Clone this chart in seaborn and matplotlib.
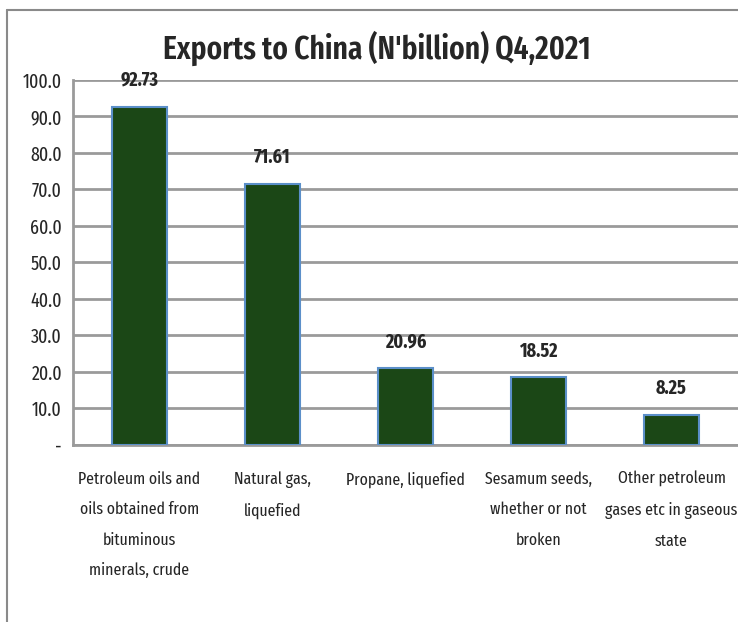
import matplotlib
matplotlib.use('Agg')
import matplotlib.pyplot as plt
import seaborn as sns
import pandas as pd

categories = [
    'Petroleum oils and\noils obtained from\nbituminous\nminerals, crude',
    'Natural gas,\nliquefied',
    'Propane, liquefied',
    'Sesamum seeds,\nwhether or not\nbroken',
    'Other petroleum\ngases etc in gaseous\nstate',
]
values = [92.73, 71.61, 20.96, 18.52, 8.25]
yticks = [0, 10, 20, 30, 40, 50, 60, 70, 80, 90, 100]
ytick_labels = ['-'] + ['%.1f' % t for t in yticks[1:]]

df = pd.DataFrame({'item': categories, 'value': values})

sns.set_style('white')
plt.rcParams['font.family'] = ['Fira Sans Extra Condensed', 'DejaVu Sans']

fig = plt.figure(figsize=(7.38, 6.22), dpi=100)
ax = fig.add_axes([0.099, 0.2846, 0.901, 0.5868])

sns.barplot(data=df, x='item', y='value', color='#1b4716', saturation=1,
            width=0.42, edgecolor='#5b8fc9', linewidth=1.5, ax=ax, zorder=3)

ax.set_ylim(0, 100)
ax.set_yticks(yticks)
ax.set_yticklabels(ytick_labels, fontsize=14)
ax.yaxis.grid(True, color='#9a9a9a', linewidth=2, zorder=0)
ax.set_axisbelow(True)
for s in ['top', 'right']:
    ax.spines[s].set_visible(False)
for s in ['left', 'bottom']:
    ax.spines[s].set_color('#9a9a9a')
    ax.spines[s].set_linewidth(2)
ax.tick_params(axis='y', length=0, pad=8)
ax.tick_params(axis='x', length=0, pad=19)
ax.set_xticks(range(len(categories)))
ax.set_xticklabels(categories, fontsize=12.4, linespacing=2.12, va='top')
ax.set_xlabel('')
ax.set_ylabel('')
ax.set_xlim(-0.5, 4.5)

for i, v in enumerate(values):
    ax.annotate('%.2f' % v, (i, v), xytext=(0, 12), textcoords='offset points',
                ha='center', va='bottom', fontsize=14, fontweight='bold')

fig.text(0.511, 0.922, "Exports to China (N'billion) Q4,2021", ha='center',
         va='center', fontsize=23, fontweight='semibold')

# outer frame: top and left edges
fig.add_artist(plt.Line2D([0.0095, 1.0], [0.984, 0.984], transform=fig.transFigure,
                          color='#8a8a8a', linewidth=1.5))
fig.add_artist(plt.Line2D([0.0095, 0.0095], [0.0, 0.984], transform=fig.transFigure,
                          color='#8a8a8a', linewidth=1.5))

fig.savefig('out.png', dpi=100)
